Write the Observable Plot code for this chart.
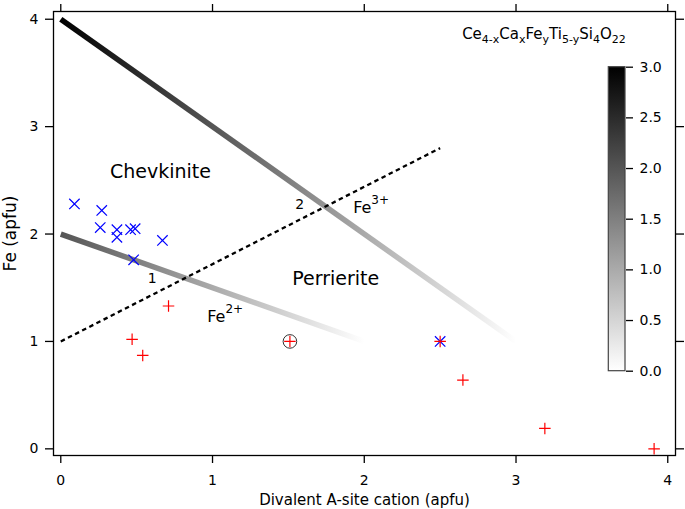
<!DOCTYPE html>
<html><head><meta charset="utf-8">
<script src="https://cdn.jsdelivr.net/npm/d3@7"></script>
<script src="https://cdn.jsdelivr.net/npm/@observablehq/plot@0.6"></script>
<style>
html,body{margin:0;padding:0;background:#fff;}
#chart{position:relative;width:685px;height:509px;font-family:"DejaVu Sans",sans-serif;}
#chart svg{position:absolute;left:0;top:0;overflow:visible;}
</style></head><body><div id="chart"></div>
<script>
// ---- data ----
const chevkiniteX = [0.09, 0.27, 0.26, 0.37, 0.37, 0.46, 0.49, 0.67, 0.48, 2.50];
const chevkiniteY = [2.28, 2.22, 2.06, 2.04, 1.97, 2.04, 2.05, 1.94, 1.76, 1.00];
const perrieriteX = [0.71, 0.47, 0.54, 1.51, 2.50, 2.65, 3.19, 3.91];
const perrieriteY = [1.33, 1.02, 0.87, 1.00, 1.00, 0.64, 0.19, 0.00];
const circledX = [1.51];
const circledY = [1.00];
const fe3LineX = [0, 3], fe3LineY = [4, 1], fe3LineValue = [3, 0];
const fe2LineX = [0, 2], fe2LineY = [2, 1], fe2LineValue = [2, 0];
const boundaryX = [0, 2.5], boundaryY = [1, 2.8];
const xTicks = [0, 1, 2, 3, 4];
const yTicks = [0, 1, 2, 3, 4];
const colorTicks = [0, 0.5, 1, 1.5, 2, 2.5, 3];
const colorDomain = [0, 3];
const regionLabels = ["Chevkinite", "Perrierite"];
const regionLabelX = [0.657, 1.812];
const regionLabelY = [2.58, 1.586];
const lineLabels = ["1", "2"];
const lineLabelX = [0.602, 1.575];
const lineLabelY = [1.583, 2.275];
const ionLabels = ["Fe^{2+}", "Fe^{3+}"];
const ionLabelX = [0.965, 1.927];
const ionLabelY = [1.226, 2.241];
const formulaText = "Ce_{4-x}Ca_{x}Fe_{y}Ti_{5-y}Si_{4}O_{22}";
const formulaX = [2.645], formulaY = [3.858];
const xLabel = "Divalent A-site cation (apfu)";
const yLabel = "Fe (apfu)";

// ---- tables ----
const zip = (xs, ys) => xs.map((x, i) => ({x, y: ys[i]}));
const chev = zip(chevkiniteX, chevkiniteY);
const perr = zip(perrieriteX, perrieriteY);
const circled = zip(circledX, circledY);
const fe3Line = zip(fe3LineX, fe3LineY);
const fe2Line = zip(fe2LineX, fe2LineY);
const boundary = zip(boundaryX, boundaryY);
const regions = regionLabels.map((t, i) => ({t, x: regionLabelX[i], y: regionLabelY[i]}));
const lineLbls = lineLabels.map((t, i) => ({t, x: lineLabelX[i], y: lineLabelY[i]}));
const ionLbls = ionLabels.map((t, i) => ({t, x: ionLabelX[i], y: ionLabelY[i]}));
const formula = [{t: formulaText, x: formulaX[0], y: formulaY[0]}];

const grey = d3.scaleLinear().domain(colorDomain).range(["#ffffff", "#000000"]).interpolate(d3.interpolateRgb);
const FONT = '"DejaVu Sans", sans-serif';

const main = Plot.plot({
  width: 685, height: 509,
  marginLeft: 53, marginRight: 10, marginTop: 11, marginBottom: 54,
  style: {fontFamily: FONT, fontSize: "14px", color: "#000", background: "transparent", overflow: "visible"},
  x: {domain: [-0.048, 4.051]},
  y: {domain: [-0.062, 4.072]},
  marks: [
    Plot.line(fe3Line, {x: "x", y: "y", stroke: "url(#gradFe3)", strokeWidth: 5.5, strokeLinecap: "butt"}),
    Plot.line(fe2Line, {x: "x", y: "y", stroke: "url(#gradFe2)", strokeWidth: 5.5, strokeLinecap: "butt"}),
    Plot.line(boundary, {x: "x", y: "y", stroke: "#000", strokeWidth: 2.3, strokeDasharray: "4.5,3.5", strokeLinecap: "butt"}),
    Plot.dot(chev, {x: "x", y: "y", symbol: "times", r: 4.8, stroke: "#0000ff", strokeWidth: 1.2}),
    Plot.dot(perr, {x: "x", y: "y", symbol: "plus", r: 3.8, stroke: "#ff0000", strokeWidth: 1.2}),
    Plot.dot(circled, {x: "x", y: "y", r: 6.8, stroke: "#333", strokeWidth: 1, fill: "none"}),
    Plot.text(regions, {x: "x", y: "y", text: "t", fontSize: 19, fill: "#000"}),
    Plot.text(lineLbls, {x: "x", y: "y", text: "t", fontSize: 14, fill: "#000"}),
    Plot.text(ionLbls, {x: "x", y: "y", text: "t", fontSize: 16, textAnchor: "start", fill: "#000", className: "rich-sup"}),
    Plot.text(formula, {x: "x", y: "y", text: "t", fontSize: 15, textAnchor: "start", fill: "#000", className: "rich-sub"}),
    Plot.frame({stroke: "#000", strokeWidth: 1.3}),
    Plot.axisX({ticks: xTicks, tickSize: 8, tickPadding: 12, label: null, fontSize: 14, strokeWidth: 1.3, tickFormat: d3.format("d")}),
    Plot.axisX({anchor: "top", ticks: xTicks, tickSize: 8, label: null, strokeWidth: 1.3, tickFormat: () => ""}),
    Plot.axisY({ticks: yTicks, tickSize: 8, tickPadding: 7, label: null, fontSize: 14, strokeWidth: 1.3, tickFormat: d3.format("d")}),
    Plot.axisY({anchor: "right", ticks: yTicks, tickSize: 8, label: null, strokeWidth: 1.3, tickFormat: () => ""}),
    Plot.text([xLabel], {frameAnchor: "bottom", text: d => d, dy: 45, fontSize: 15, textAnchor: "middle", lineAnchor: "middle", fill: "#000"}),
    Plot.text([yLabel], {frameAnchor: "left", text: d => d, rotate: -90, dx: -43, fontSize: 17, textAnchor: "middle", lineAnchor: "middle", fill: "#000"})
  ]
});

const cbar = Plot.plot({
  width: 85, height: 325,
  marginLeft: 8.3, marginRight: 60, marginTop: 10.7, marginBottom: 10.3,
  style: {fontFamily: FONT, fontSize: "14px", color: "#000", background: "transparent", overflow: "visible"},
  y: {domain: colorDomain},
  marks: [
    Plot.rect([colorDomain], {y1: d => d[0], y2: d => d[1], fill: "url(#gradBar)", stroke: "#444", strokeWidth: 1.2}),
    Plot.axisY({anchor: "right", ticks: colorTicks, tickSize: 7, tickPadding: 7, label: null, fontSize: 14, strokeWidth: 1.3, tickFormat: d3.format(".1f")})
  ]
});
cbar.style.left = "600px";
cbar.style.top = "56px";

// gradients
const NS = "http://www.w3.org/2000/svg";
const defs = document.createElementNS(NS, "defs");
function addGrad(id, x1, y1, x2, y2, v0, v1) {
  const g = document.createElementNS(NS, "linearGradient");
  g.setAttribute("id", id);
  g.setAttribute("x1", x1); g.setAttribute("y1", y1);
  g.setAttribute("x2", x2); g.setAttribute("y2", y2);
  [[0, v0], [1, v1]].forEach(([o, v]) => {
    const s = document.createElementNS(NS, "stop");
    s.setAttribute("offset", o);
    s.setAttribute("stop-color", grey(v));
    g.appendChild(s);
  });
  defs.appendChild(g);
}
addGrad("gradFe3", 0, 0, 1, 0, fe3LineValue[0], fe3LineValue[1]);
addGrad("gradFe2", 0, 0, 1, 0, fe2LineValue[0], fe2LineValue[1]);
addGrad("gradBar", 0, 1, 0, 0, colorDomain[0], colorDomain[1]);
main.insertBefore(defs, main.firstChild);

// rich text (sub/superscripts)
function richify(el, base, small, shift) {
  const s = el.textContent;
  el.textContent = "";
  const re = /([_^])\{([^}]*)\}|([^_^]+)/g;
  let m, cur = 0;
  while ((m = re.exec(s))) {
    const t = document.createElementNS(NS, "tspan");
    let target = 0, size = base, str = m[3];
    if (m[1] === "_") { target = shift; size = small; str = m[2]; }
    else if (m[1] === "^") { target = -shift; size = small; str = m[2]; }
    t.setAttribute("font-size", size);
    if (target !== cur) t.setAttribute("dy", target - cur);
    cur = target;
    t.textContent = str;
    el.appendChild(t);
  }
}
main.querySelectorAll(".rich-sup text").forEach(el => richify(el, 16, 12, 9.5));
main.querySelectorAll(".rich-sub text").forEach(el => richify(el, 15, 11, 3.5));

const chart = document.getElementById("chart");
chart.appendChild(main);
chart.appendChild(cbar);
</script></body></html>
